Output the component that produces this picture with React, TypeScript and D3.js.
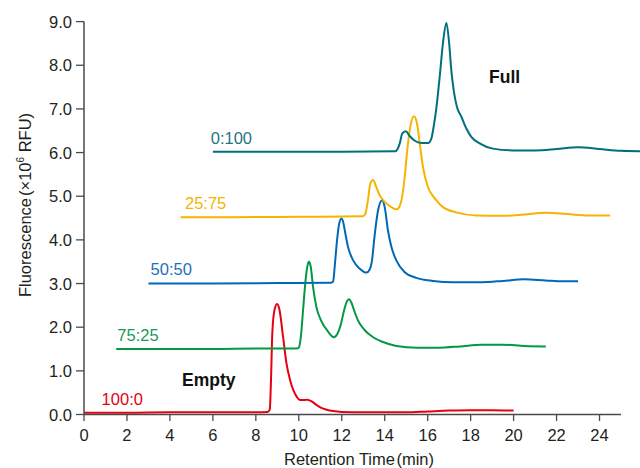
import React from "react";
import * as d3 from "d3";

// Traces as plotted (retention time in min, fluorescence ×10^6 RFU, stacked offsets included)
const red100_0: [number, number][] = [
  [0, 0.04], [2, 0.04], [4, 0.05], [6, 0.05], [8, 0.05], [8.55, 0.06], [8.65, 0.12], [8.7, 0.7],
  [8.77, 1.9], [8.88, 2.42], [8.99, 2.53], [9.1, 2.4], [9.27, 1.77], [9.43, 1.16], [9.6, 0.78],
  [9.75, 0.55], [9.9, 0.41], [10.05, 0.33], [10.25, 0.33], [10.4, 0.34], [10.6, 0.3], [10.82, 0.22],
  [11.05, 0.15], [11.3, 0.11], [11.6, 0.08], [12, 0.06], [13, 0.05], [14, 0.05], [15, 0.05],
  [16, 0.07], [17, 0.09], [18, 0.1], [19, 0.1], [20, 0.09],
];
const green75_25: [number, number][] = [
  [1.5, 1.5], [4, 1.5], [6, 1.5], [8, 1.51], [9.9, 1.51], [10.0, 1.53], [10.1, 1.8], [10.2, 2.4],
  [10.3, 3.0], [10.4, 3.4], [10.47, 3.5], [10.55, 3.4], [10.67, 2.9], [10.82, 2.46], [11.05, 2.14],
  [11.36, 1.9], [11.63, 1.77], [11.8, 1.85], [11.95, 2.05], [12.11, 2.39], [12.25, 2.6], [12.34, 2.64],
  [12.45, 2.56], [12.6, 2.35], [12.76, 2.15], [13.07, 1.93], [13.46, 1.77], [13.92, 1.66], [14.54, 1.57],
  [15.5, 1.53], [16.5, 1.53], [17.5, 1.56], [18.5, 1.6], [19.5, 1.6], [20.5, 1.57], [21.5, 1.56],
];
const blue50_50: [number, number][] = [
  [3, 3.0], [6, 3.0], [9, 3.01], [11.5, 3.02], [11.6, 3.05], [11.67, 3.38], [11.78, 3.99], [11.88, 4.37],
  [11.98, 4.49], [12.06, 4.42], [12.14, 4.22], [12.29, 3.84], [12.53, 3.53], [12.84, 3.34], [13.15, 3.25],
  [13.3, 3.32], [13.4, 3.5], [13.53, 4.1], [13.69, 4.68], [13.88, 4.91], [14.0, 4.75], [14.15, 4.22],
  [14.31, 3.84], [14.54, 3.53], [14.93, 3.26], [15.47, 3.13], [16.25, 3.06], [17.2, 3.03], [18.5, 3.03],
  [19.5, 3.06], [20.5, 3.1], [21.5, 3.07], [22.3, 3.05], [23, 3.05],
];
const yellow25_75: [number, number][] = [
  [4.5, 4.52], [7, 4.52], [10, 4.53], [13.0, 4.54], [13.1, 4.6], [13.22, 4.91], [13.33, 5.29],
  [13.46, 5.37], [13.61, 5.21], [13.77, 5.02], [14.0, 4.87], [14.31, 4.75], [14.57, 4.7], [14.7, 4.78],
  [14.8, 4.95], [14.93, 5.44], [15.05, 6.06], [15.19, 6.59], [15.36, 6.83], [15.5, 6.67], [15.63, 6.21],
  [15.78, 5.67], [16.01, 5.21], [16.33, 4.95], [16.71, 4.75], [17.33, 4.63], [18.26, 4.56], [19.5, 4.55],
  [20.5, 4.58], [21.5, 4.62], [22.5, 4.59], [23.5, 4.56], [24.5, 4.56],
];
const teal0_100: [number, number][] = [
  [6, 6.02], [9, 6.02], [12, 6.02], [14.5, 6.03], [14.6, 6.08], [14.7, 6.21], [14.82, 6.44],
  [14.98, 6.49], [15.16, 6.38], [15.4, 6.27], [15.71, 6.22], [16.02, 6.22], [16.17, 6.32], [16.28, 6.6],
  [16.4, 7.0], [16.56, 7.74], [16.71, 8.5], [16.87, 8.97], [17.0, 8.5], [17.1, 7.89], [17.21, 7.43],
  [17.36, 7.05], [17.57, 6.82], [17.8, 6.55], [18.03, 6.36], [18.42, 6.21], [19.04, 6.09], [20, 6.05],
  [21, 6.05], [22, 6.08], [23, 6.12], [24, 6.08], [25, 6.04], [26, 6.03],
];

const seriesNames = ["100:0", "75:25", "50:50", "25:75", "0:100"];
const seriesData = [red100_0, green75_25, blue50_50, yellow25_75, teal0_100];
const seriesColors = ["#e60012", "#009944", "#0068b7", "#f5b400", "#00707f"];
const labelColors = ["#e60012", "#1a9a55", "#1f6fc0", "#f5b400", "#1f7584"];
// label anchor positions in data units (time, value)
const labelTime = [0.82, 1.55, 3.1, 4.7, 5.9];
const labelValue = [0.22, 1.68, 3.2, 4.7, 6.2];

const xTicks = [0, 2, 4, 6, 8, 10, 12, 14, 16, 18, 20, 22, 24];
const yTicks = [0, 1, 2, 3, 4, 5, 6, 7, 8, 9];

const FONT = "'Liberation Sans', Arial, Helvetica, sans-serif";

export default function App() {
  const W = 640, H = 468;
  const x = d3.scaleLinear().domain([0, 25]).range([84, 621]);
  const y = d3.scaleLinear().domain([0, 9]).range([414.5, 21.6]);
  const line = d3
    .line<[number, number]>()
    .x((d) => x(d[0]))
    .y((d) => y(d[1]))
    .curve(d3.curveMonotoneX);
  const axisColor = "#4a4a4a";
  const textColor = "#231f20";

  return (
    <svg
      width={W}
      height={H}
      style={{ position: "fixed", left: 0, top: 0, background: "#fff" }}
      fontFamily={FONT}
    >
      {/* series */}
      {seriesData.map((d, i) => (
        <path
          key={i}
          d={line(d) || ""}
          fill="none"
          stroke={seriesColors[i]}
          strokeWidth={2}
          strokeLinejoin="round"
        />
      ))}

      {/* x axis */}
      <line x1={x(0)} x2={x(25)} y1={y(0)} y2={y(0)} stroke={axisColor} strokeWidth={1.5} />
      {xTicks.map((t) => (
        <g key={t}>
          <line x1={x(t)} x2={x(t)} y1={y(0)} y2={y(0) + 6.5} stroke={axisColor} strokeWidth={1.3} />
          <text x={x(t)} y={441} textAnchor="middle" fontSize={16.5} fill={textColor}>
            {t}
          </text>
        </g>
      ))}

      {/* y axis */}
      <line x1={x(0)} x2={x(0)} y1={y(0)} y2={y(9)} stroke={axisColor} strokeWidth={1.5} />
      {yTicks.map((v) => (
        <g key={v}>
          <line x1={x(0) - 8} x2={x(0)} y1={y(v)} y2={y(v)} stroke={axisColor} strokeWidth={1.3} />
          <text x={72} y={y(v) + 6} textAnchor="end" fontSize={16.5} fill={textColor}>
            {d3.format(".1f")(v)}
          </text>
        </g>
      ))}

      {/* series labels */}
      {seriesNames.map((n, i) => (
        <text
          key={n}
          x={x(labelTime[i])}
          y={y(labelValue[i])}
          fontSize={16.5}
          fill={labelColors[i]}
        >
          {n}
        </text>
      ))}

      <text x={489} y={83} fontSize={17.5} fontWeight="bold" fill="#111">
        Full
      </text>
      <text x={182} y={386} fontSize={17.5} fontWeight="bold" fill="#111">
        Empty
      </text>

      {/* axis titles */}
      <text
        transform="translate(31,205) rotate(-90)"
        textAnchor="middle"
        fontSize={16.5}
        fill={textColor}
      >
        <tspan>Fluorescence</tspan>
        <tspan dx={2}>(×10</tspan>
        <tspan fontSize={10} dy={-7}>6</tspan>
        <tspan dy={7}> RFU)</tspan>
      </text>
      <text x={359} y={465} textAnchor="middle" fontSize={16.5} fill={textColor}>
        Retention Time<tspan dx={1.5}>(min)</tspan>
      </text>
    </svg>
  );
}
